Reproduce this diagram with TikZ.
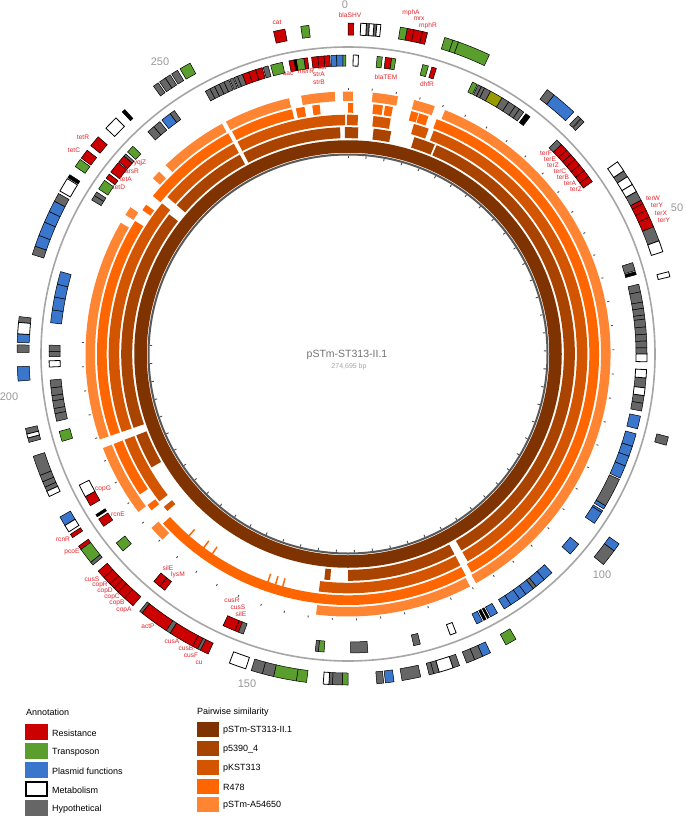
\documentclass[tikz,border=0pt]{standalone}
\usepackage{fontspec}
\setmainfont{Liberation Sans}
\definecolor{ringA}{HTML}{7F3300}
\definecolor{ringB}{HTML}{A84300}
\definecolor{ringC}{HTML}{D45500}
\definecolor{ringD}{HTML}{FF6600}
\definecolor{ringE}{HTML}{FF8533}
\definecolor{gred}{HTML}{CC0000}
\definecolor{ggreen}{HTML}{5A9E2E}
\definecolor{gblue}{HTML}{3A76CC}
\definecolor{ggrey}{HTML}{666666}
\definecolor{golive}{HTML}{999900}
\definecolor{labred}{HTML}{E3262E}
\definecolor{numgrey}{HTML}{999999}
\tikzset{
  gene/.style={draw=black, line width=0.5pt},
  lab/.style={text=labred, font=\fontsize{6.6}{6.6}\selectfont, inner sep=0pt},
  posl/.style={text=numgrey, font=\fontsize{11}{11}\selectfont, inner sep=0pt},
  legt/.style={anchor=west, font=\fontsize{9}{9}\selectfont, inner sep=0pt},
  tickm/.style={draw=black!70, line width=0.9pt},
}
\newcommand\sect[5]{%
  \path[#5] (#1-90:#3) arc[start angle={#1-90}, end angle={#2-90}, radius=#3]
    -- (#2-90:#4) arc[start angle={#2-90}, end angle={#1-90}, radius=#4] -- cycle;}
\begin{document}
\begin{tikzpicture}[x=1pt,y=-1pt]
\useasboundingbox (0,0) rectangle (685,816);
\fill[white] (0,0) rectangle (685,816);
\begin{scope}[shift={(348,354)}]
  % outer grey circle
  \draw[black!35, line width=1.6pt] (0,0) circle[radius=307];
  % similarity rings
  \draw[black!65, line width=2pt] (0,0) circle[radius=199.5];
  \draw[ringA, line width=12.5pt] (0,0) circle[radius=207.5];
  \foreach \a/\b in {23/150, 152/180, 184.5/186, 240/249, 251/308, 311/331.5, 332.5/358, 359.2/362.6, 366.5/371, 377/382.5}
    {\sect{\a}{\b}{215.8}{226.8}{fill=ringB}}
  \foreach \a/\b in {21/150, 152/187, 229/230.3, 232/249, 251/309, 311/331.5, 332.5/359.3, 359.7/362.4, 366.1/370.3, 376/379.7}
    {\sect{\a}{\b}{228.8}{239.3}{fill=ringC}}
  \foreach \a/\b in {20.7/150.5, 152/227.5, 231.5/233, 236/249, 251/302, 305/306.5, 309/331.5, 332.5/347.1, 348/350, 351.8/353.5, 360/361.2, 365.8/368, 368.5/370.3, 374.6/376.3, 376.5/378.7}
    {\sect{\a}{\b}{241.3}{251}{fill=ringD}}
  \foreach \a/\b in {21.7/150.8, 152.3/187, 225/228.5, 233/249, 251/300, 302/304, 312/314, 316/331.3, 332.3/347, 349.7/357.1, 358.9/361.1, 365.4/371, 374.6/379.3}
    {\sect{\a}{\b}{253}{262.5}{fill=ringE}}
  % small fragments
  \foreach \a in {195.5, 197.3, 199.2, 214, 216.5, 221}
    {\sect{\a}{\a+0.35}{233}{246}{fill=ringD}}
  % ticks
  \foreach \i in {0,...,52}
    {\draw[tickm] (\i*5.24-90:264.5) -- (\i*5.24-90:266.5);
     \draw[tickm] (\i*5.24-90:196) -- (\i*5.24-90:198.5);}
  % ---------- inner gene track (288-299)
  \foreach \a/\b in {45.5/47, 47/48.2, 48.2/49.4, 49.4/50.8, 50.8/52.2, 52.2/53.6, 53.6/54.8,
      201.5/202.2, 202.2/204.7, 217.8/219, 219/220.5, 234.8/236.5, 239.5/241.5, 306/307,
      307.5/309.8, 310/311.5, 339.3/340.6, 340.6/342, 342/343.3, 348.6/349.6, 351.5/352.2,
      353/354.2, 354.2/355.4, 355.4/356.5, 7.2/8.4, 16.3/17.2}
    {\sect{\a}{\b}{288}{299}{gene, fill=gred}}
  \foreach \a/\b in {5.6/6.6, 8.4/9.2, 14.5/15.6, 24.6/25.6, 184.6/185.7, 228.8/230.8, 253/255,
      303.5/305.5, 312.5/314, 345/347.3, 350/351.5, 359/359.6}
    {\sect{\a}{\b}{288}{299}{gene, fill=ggreen}}
  \foreach \a/\b in {102/104.5, 105.5/108, 108/110, 110/112, 112/114.5, 120.5/121.2, 121.6/122,
      122/124.5, 129.5/132, 137/139, 139/141, 141.7/143.5, 143.5/145, 145/147, 147/148.5,
      150/151.5, 153.3/154.5, 276/278.5, 278.5/281, 281/283.5, 283.5/286, 321.5/323.5,
      356.7/357.8, 357.8/359}
    {\sect{\a}{\b}{288}{299}{gene, fill=gblue}}
  \foreach \a/\b in {25.8/26.5, 26.5/27.2, 27.2/28.5, 31/32.5, 32.5/34, 34/35, 35/36, 44.3/45.5,
      72.2/73.8, 76.5/78, 78/80, 80/81.2, 81.2/82.5, 82.5/83.3, 83.3/84.8, 84.8/86.2,
      86.2/87.5, 87.5/88.8, 88.8/90, 94.6/96.5, 98/99.5, 99.5/101, 114.8/120.5,
      141/141.7, 166/167.3, 176.2/179.5, 185.7/186.3, 200.5/201.5, 257/258.5, 258.5/259.5,
      259.5/261, 261/262, 262/263.5, 263.5/265, 269.5/270.5, 270.5/271.7, 301/302, 302/302.8,
      311.5/312, 318/319.5, 319.5/321, 323.5/324.5, 331.5/332.5, 332.5/333.5, 333.5/334.5,
      334.5/335.5, 335.5/336.5, 336.7/337.4, 337.6/338.3, 338.3/339.3, 343.5/344.5}
    {\sect{\a}{\b}{288}{299}{gene, fill=ggrey}}
  \foreach \a/\b in {36.5/37.5, 74/74.6, 151.8/152.2, 152.5/153, 237/237.5, 349.6/350}
    {\sect{\a}{\b}{288}{299}{gene, fill=black}}
  \foreach \a/\b in {1/2, 90/91.5, 93/94.6, 96.5/98, 158.8/160, 241.5/244, 267.5/268.7}
    {\sect{\a}{\b}{288}{299}{gene, line width=0.8pt, fill=white}}
  \sect{28.5}{31}{288}{299}{gene, fill=golive}
  % ---------- outer gene track (319-331)
  \foreach \a/\b in {0/1, 10.3/11.5, 11.5/13, 13/13.9, 62.3/63, 63/64.3, 64.3/65.6, 65.6/67.4,
      205/206.5, 207/208, 208/212.5, 213.3/218.5, 220.5/222.5, 222.5/224, 224/225, 225/226,
      226/227.5, 227.5/229, 233.8/234.5, 236.3/237, 306.3/308, 309/311, 347/349}
    {\sect{\a}{\b}{319}{331}{gene, fill=gred}}
  \foreach \a/\b in {9.1/10.3, 17/18.5, 18.5/19.5, 19.5/25.3, 149.5/151.5, 180/181, 187.2/189,
      189/193, 231/233.8, 304.5/306, 329.5/331.5, 351.8/353.2}
    {\sect{\a}{\b}{319}{331}{gene, fill=ggreen}}
  \foreach \a/\b in {38.5/43, 125/126.5, 154.5/156, 172/173.5, 238.8/240.5, 265.3/267.8,
      272/273.5, 289/291, 291/293.5, 293.5/295.5, 295.5/297.5}
    {\sect{\a}{\b}{319}{331}{gene, fill=gblue}}
  \foreach \a/\b in {3.2/3.7, 4.5/5, 37/38.5, 44/44.7, 44.8/45.5, 56.4/57.6, 60.6/62.3, 67.4/70,
      104.5/106, 126.5/129.5, 156/157.5, 157.5/159, 160.3/161.5, 164/165, 165/165.8,
      167.3/170.6, 173.8/175, 181/182.7, 182.7/183.3, 193/195, 195/197, 206.5/207,
      212.5/213.3, 218.5/219, 230.4/231, 245.5/246.3, 246.3/247.3, 247.3/248.5, 248.5/252,
      254.5/255.3, 256/257, 270.3/271.6, 275.5/276.5, 287.5/289, 297.5/299,
      324/325, 325.3/326.5, 326.5/327.5, 327.8/329}
    {\sect{\a}{\b}{319}{331}{gene, fill=ggrey}}
  \foreach \a/\b in {2.2/3.2, 3.7/4.5, 5/5.7, 54.5/56.4, 57.6/59.2, 59.2/60.6, 70/72, 75.6/76.5,
      161.5/164, 183.3/184.3, 198/201, 237.5/238.8, 244.5/245.5, 255.3/256, 273.5/275.5,
      299.5/302, 313/315.5}
    {\sect{\a}{\b}{319}{331}{gene, line width=0.8pt, fill=white}}
  \foreach \a/\b in {317/317.6, 302.2/302.8}
    {\sect{\a}{\b}{319}{331}{gene, fill=black}}
\end{scope}
% position labels
\node[posl] (p0) at (345,5) {0};
\node[posl] (p50) at (677,208) {50};
\node[posl] (p100) at (602,575) {100};
\node[posl] (p150) at (247,684) {150};
\node[posl] (p200) at (9,397) {200};
\node[posl] (p250) at (160,62) {250};
% centre
\node[text=black!55, font=\fontsize{10.5}{10.5}\selectfont, inner sep=0pt] (title) at (347,355) {pSTm-ST313-II.1};
\node[text=black!35, font=\fontsize{7}{7}\selectfont, inner sep=0pt] (bp) at (349,367) {274,695 bp};
% gene labels
\node[lab] (l1) at (350,15.5) {blaSHV};
\node[lab] (l2) at (277,22) {cat};
\node[lab] (l3) at (411,12.5) {mphA};
\node[lab] (l4) at (419,19) {mrx};
\node[lab] (l5) at (428,25.5) {mphR};
\node[lab] (l6) at (288,74) {aac};
\node[lab] (l7) at (306,71) {merR};
\node[lab] (l8) at (322,67) {sul};
\node[lab] (l9) at (319,74) {strA};
\node[lab] (l10) at (319,82) {strB};
\node[lab] (l11) at (386,77) {blaTEM};
\node[lab] (l12) at (427,84) {dhfR};
\node[lab] (l13) at (546,153) {terF};
\node[lab] (l14) at (550,159) {terE};
\node[lab] (l15) at (553,165) {terZ};
\node[lab] (l16) at (560,171) {terC};
\node[lab] (l17) at (563,177) {terB};
\node[lab] (l18) at (570,183) {terA};
\node[lab] (l19) at (576,189) {terZ};
\node[lab] (l20) at (653,198) {terW};
\node[lab] (l21) at (657,205.5) {terY};
\node[lab] (l22) at (661,213) {terX};
\node[lab] (l23) at (664,220.5) {terY};
\node[lab] (l24) at (83,137) {tetR};
\node[lab] (l25) at (74,150) {tetC};
\node[lab] (l26) at (140,163) {yqjZ};
\node[lab] (l27) at (132,171) {arsR};
\node[lab] (l28) at (126,179) {tetA};
\node[lab] (l29) at (119,187) {tetD};
\node[lab] (l30) at (103,489) {copG};
\node[lab] (l31) at (118,514) {rcnE};
\node[lab] (l32) at (63,539) {rcnR};
\node[lab] (l33) at (72,552) {pcoE};
\node[lab] (l34) at (92,579) {cusS};
\node[lab] (l35) at (100,585) {copR};
\node[lab] (l36) at (105,591) {copD};
\node[lab] (l37) at (112,597) {copC};
\node[lab] (l38) at (117,603) {copB};
\node[lab] (l39) at (124,610) {copA};
\node[lab] (l40) at (148,626) {actP};
\node[lab] (l41) at (172,641) {cusA};
\node[lab] (l42) at (186,648.5) {cusB};
\node[lab] (l43) at (191,655.5) {cusF};
\node[lab] (l44) at (199,662.5) {cu};
\node[lab] (l45) at (168,568) {silE};
\node[lab] (l46) at (178,574.5) {lysM};
\node[lab] (l47) at (232,600.5) {cusR};
\node[lab] (l48) at (238,607) {cusS};
\node[lab] (l49) at (241,614) {silE};
% legend: annotation
\node[legt] (ah) at (26,712) {Annotation};
\fill[gred] (25,724) rectangle (48,740);
\fill[ggreen] (25,743) rectangle (48,759);
\fill[gblue] (25,762) rectangle (48,778);
\draw[black, line width=1.6pt] (26,782) rectangle (47,796);
\fill[ggrey] (25,800) rectangle (48,816);
\node[legt] (a1) at (52,733) {Resistance};
\node[legt] (a2) at (52,752) {Transposon};
\node[legt] (a3) at (52,771) {Plasmid functions};
\node[legt] (a4) at (52,790) {Metabolism};
\node[legt] (a5) at (52,809) {Hypothetical};
% legend: similarity
\node[legt] (sh) at (197,712) {Pairwise similarity};
\fill[ringA] (197,722) rectangle (219,737);
\fill[ringB] (197,741) rectangle (219,756);
\fill[ringC] (197,760) rectangle (219,775);
\fill[ringD] (197,779) rectangle (219,794);
\fill[ringE] (197,797) rectangle (219,812);
\node[legt] (s1) at (223,730) {pSTm-ST313-II.1};
\node[legt] (s2) at (223,749) {p5390\_4};
\node[legt] (s3) at (223,768) {pKST313};
\node[legt] (s4) at (223,787) {R478};
\node[legt] (s5) at (223,805) {pSTm-A54650};
\end{tikzpicture}
\end{document}
